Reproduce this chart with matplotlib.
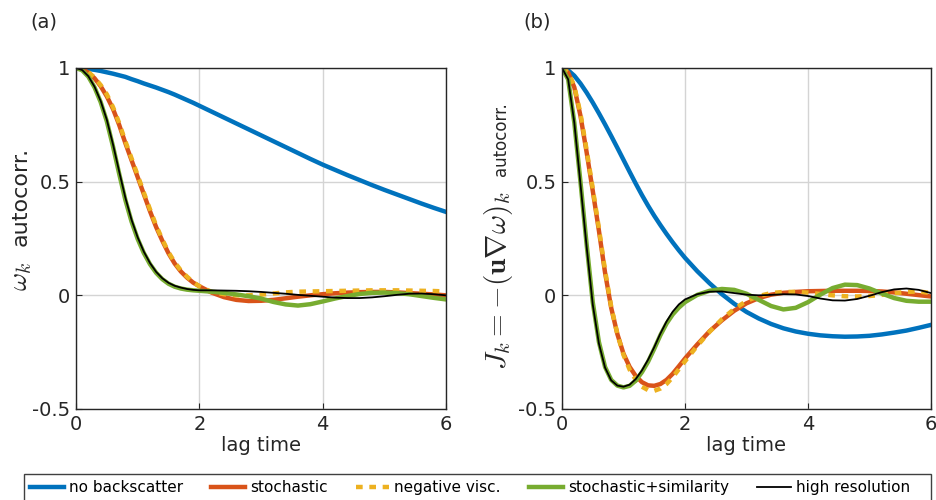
import numpy as np
import matplotlib
matplotlib.use("Agg")
from matplotlib import pyplot as plt
from matplotlib.patches import Rectangle

plt.rcParams['font.family'] = ['DejaVu Sans']
plt.rcParams['mathtext.fontset'] = 'cm'

# lag time grid (shared by all curves)
t = [0.0, 0.1, 0.2, 0.3, 0.4, 0.5, 0.6, 0.7, 0.8, 0.9, 1.0,
     1.1, 1.2, 1.3, 1.4, 1.5, 1.6, 1.7, 1.8, 1.9, 2.0,
     2.2, 2.4, 2.6, 2.8, 3.0, 3.2, 3.4, 3.6, 3.8, 4.0,
     4.2, 4.4, 4.6, 4.8, 5.0, 5.2, 5.4, 5.6, 5.8, 6.0]

# (a) vorticity autocorrelation
a_noback = [1.0, 0.999, 0.996, 0.992, 0.987, 0.981, 0.975, 0.968, 0.961, 0.951, 0.942,
            0.932, 0.923, 0.914, 0.904, 0.894, 0.883, 0.871, 0.859, 0.847, 0.834,
            0.808, 0.782, 0.756, 0.73, 0.704, 0.678, 0.652, 0.626, 0.6, 0.575,
            0.552, 0.529, 0.507, 0.485, 0.464, 0.444, 0.424, 0.404, 0.385, 0.367]
a_stoch = [1.0, 0.995, 0.98, 0.955, 0.92, 0.875, 0.82, 0.75, 0.67, 0.595, 0.52,
           0.445, 0.37, 0.3, 0.24, 0.185, 0.14, 0.105, 0.078, 0.056, 0.04,
           0.012, -0.008, -0.02, -0.025, -0.024, -0.02, -0.013, -0.006, 0.0, 0.005,
           0.009, 0.012, 0.014, 0.015, 0.015, 0.013, 0.01, 0.007, 0.004, 0.0]
a_negvisc = [1.0, 0.996, 0.982, 0.958, 0.925, 0.884, 0.828, 0.758, 0.678, 0.603, 0.528,
             0.452, 0.378, 0.307, 0.246, 0.19, 0.145, 0.11, 0.082, 0.058, 0.04,
             0.015, 0.005, 0.0, 0.0, 0.003, 0.008, 0.013, 0.016, 0.017, 0.018,
             0.019, 0.02, 0.021, 0.022, 0.022, 0.022, 0.021, 0.02, 0.019, 0.017]
a_stosim = [1.0, 0.99, 0.962, 0.915, 0.85, 0.765, 0.655, 0.535, 0.42, 0.325, 0.248,
            0.186, 0.137, 0.099, 0.071, 0.051, 0.038, 0.03, 0.025, 0.022, 0.02,
            0.016, 0.011, 0.004, -0.004, -0.014, -0.029, -0.04, -0.045, -0.039, -0.027,
            -0.014, -0.003, 0.006, 0.011, 0.012, 0.01, 0.005, -0.003, -0.011, -0.018]
a_hires = [1.0, 0.991, 0.964, 0.918, 0.855, 0.772, 0.664, 0.545, 0.43, 0.333, 0.255,
           0.192, 0.142, 0.103, 0.075, 0.055, 0.042, 0.034, 0.028, 0.024, 0.022,
           0.022, 0.021, 0.02, 0.018, 0.015, 0.011, 0.007, 0.002, -0.002, -0.006,
           -0.01, -0.012, -0.012, -0.009, -0.004, 0.002, 0.007, 0.008, 0.005, 0.0]

# (b) J_k autocorrelation
b_noback = [1.0, 0.99, 0.966, 0.932, 0.892, 0.848, 0.801, 0.752, 0.701, 0.649, 0.596,
            0.543, 0.491, 0.441, 0.394, 0.35, 0.309, 0.27, 0.233, 0.198, 0.165,
            0.106, 0.053, 0.005, -0.037, -0.073, -0.102, -0.126, -0.145, -0.159, -0.169,
            -0.176, -0.18, -0.182, -0.181, -0.178, -0.172, -0.164, -0.155, -0.143, -0.13]
b_stoch = [1.0, 0.98, 0.915, 0.79, 0.63, 0.46, 0.285, 0.10, -0.055, -0.17, -0.257,
           -0.315, -0.355, -0.382, -0.396, -0.398, -0.39, -0.372, -0.345, -0.312, -0.278,
           -0.216, -0.158, -0.11, -0.068, -0.035, -0.012, 0.003, 0.011, 0.015, 0.018,
           0.019, 0.02, 0.02, 0.02, 0.019, 0.017, 0.013, 0.007, 0.001, -0.005]
b_negvisc = [1.0, 0.982, 0.92, 0.8, 0.64, 0.47, 0.295, 0.11, -0.05, -0.17, -0.262,
             -0.327, -0.372, -0.402, -0.417, -0.42, -0.41, -0.39, -0.36, -0.325, -0.29,
             -0.222, -0.16, -0.105, -0.06, -0.025, -0.003, 0.01, 0.015, 0.015, 0.012,
             0.006, 0.0, -0.004, -0.005, -0.003, 0.002, 0.009, 0.015, 0.017, 0.01]
b_stosim = [1.0, 0.95, 0.76, 0.5, 0.225, -0.03, -0.205, -0.315, -0.372, -0.397, -0.405,
            -0.398, -0.375, -0.338, -0.292, -0.235, -0.175, -0.124, -0.084, -0.054, -0.03,
            0.002, 0.02, 0.028, 0.024, 0.007, -0.02, -0.047, -0.062, -0.055, -0.03,
            0.003, 0.032, 0.047, 0.045, 0.03, 0.008, -0.012, -0.024, -0.028, -0.028]
b_hires = [1.0, 0.95, 0.76, 0.49, 0.215, -0.04, -0.212, -0.318, -0.374, -0.397, -0.402,
           -0.393, -0.368, -0.33, -0.283, -0.228, -0.168, -0.115, -0.072, -0.04, -0.018,
           0.005, 0.016, 0.017, 0.01, 0.003, 0.0, 0.002, 0.005, 0.004, -0.003,
           -0.014, -0.022, -0.023, -0.016, -0.002, 0.014, 0.026, 0.03, 0.024, 0.01]

labels = ['no backscatter', 'stochastic', 'negative visc.',
          'stochastic+similarity', 'high resolution']
colors = ['#0072BD', '#D95319', '#EDB120', '#77AC30', 'black']

fig = plt.figure(figsize=(9.36, 5.0), dpi=100)
ax1 = fig.add_axes([76/936, 91/500, 370/936, 341/500])
ax2 = fig.add_axes([562/936, 91/500, 369/936, 341/500])

panels = [(ax1, [a_noback, a_stoch, a_negvisc, a_stosim, a_hires]),
          (ax2, [b_noback, b_stoch, b_negvisc, b_stosim, b_hires])]

handles = []
for ax, series in panels:
    handles = []
    h, = ax.plot(t, series[0], color=colors[0], lw=3.2, label=labels[0])
    handles.append(h)
    h, = ax.plot(t, series[1], color=colors[1], lw=3.2, label=labels[1])
    handles.append(h)
    h, = ax.plot(t, series[2], color=colors[2], lw=3.2, ls=(0, (1.5, 1.5)),
                 dash_capstyle='butt', label=labels[2])
    handles.append(h)
    h, = ax.plot(t, series[3], color=colors[3], lw=3.2, label=labels[3])
    handles.append(h)
    h, = ax.plot(t, series[4], color=colors[4], lw=1.3, label=labels[4])
    handles.append(h)

    ax.set_xlim(0, 6)
    ax.set_ylim(-0.5, 1)
    ax.set_xticks([0, 2, 4, 6])
    ax.set_yticks([-0.5, 0, 0.5, 1])
    ax.set_yticklabels(['-0.5', '0', '0.5', '1'])
    ax.grid(True, color='#d4d4d4', lw=1)
    ax.set_axisbelow(True)
    ax.tick_params(direction='in', length=4, labelsize=14, colors='#262626', pad=4)
    for s in ax.spines.values():
        s.set_color('#262626')
        s.set_linewidth(1.0)
    ax.set_xlabel('lag time', fontsize=14, color='#262626', labelpad=2)

# y labels: math part set larger than the plain text (as in the original)
ylab = dict(rotation=90, rotation_mode='anchor', ha='center', va='baseline',
            color='#262626')
fig.text(27/936, 1 - 276/500, r'$\omega_k$', fontsize=20, **ylab)
fig.text(27/936, 1 - 196/500, 'autocorr.', fontsize=16, **ylab)
fig.text(506/936, 1 - 280/500, r'$J_k = -(\mathbf{u}\nabla\omega)_k$', fontsize=21, **ylab)
fig.text(506/936, 1 - 139/500, 'autocorr.', fontsize=12, **ylab)

fig.text(30/936, 1 - 22/500, '(a)', fontsize=14, color='#262626', va='center')
fig.text(523/936, 1 - 22/500, '(b)', fontsize=14, color='#262626', va='center')

leg = fig.legend(handles=handles, loc='upper left', bbox_to_anchor=(24/936, 1 - 474/500),
                 ncol=5, fontsize=11, frameon=False, handlelength=2.2,
                 handletextpad=0.33, columnspacing=1.85, borderaxespad=0, borderpad=0.4)
# legend box runs past the bottom edge of the figure
fig.add_artist(Rectangle((24/936, -0.1), 907/936, 0.1 + 1 - 474/500,
                         transform=fig.transFigure, fill=False,
                         edgecolor='#404040', lw=1.0))

plt.savefig('out.png', dpi=100)
